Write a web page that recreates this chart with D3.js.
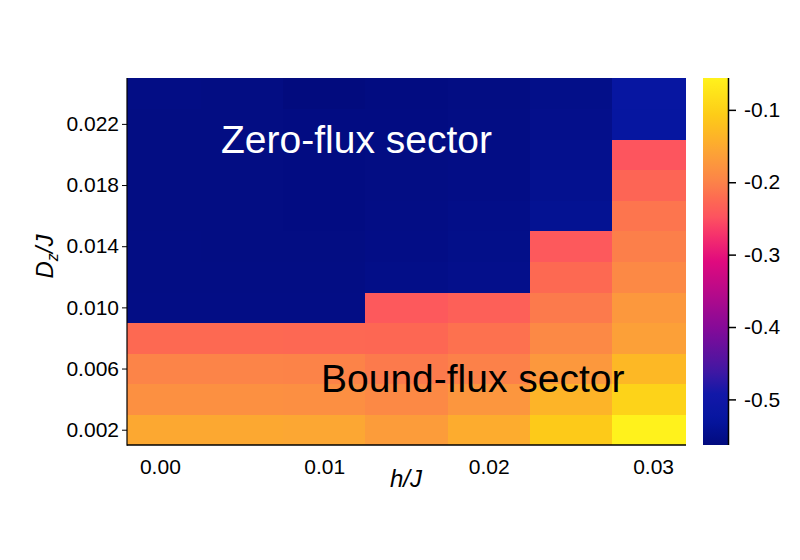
<!DOCTYPE html>
<html>
<head>
<meta charset="utf-8">
<script src="https://cdn.jsdelivr.net/npm/d3@7"></script>
<style>
  html, body { margin: 0; padding: 0; background: #fff; }
  svg { display: block; font-family: "Liberation Sans", Arial, sans-serif; }
</style>
</head>
<body>
<svg id="chart" width="800" height="560"></svg>
<script>
// ---- data ----
const hValues = [0, 0.005, 0.01, 0.015, 0.02, 0.025, 0.03];
const dValues = [0.002, 0.004, 0.006, 0.008, 0.010, 0.012, 0.014, 0.016, 0.018, 0.020, 0.022, 0.024];
// one array per h column, bottom (Dz=0.002) to top (Dz=0.024)
const col_h000 = [-0.152, -0.183, -0.198, -0.224, -0.556, -0.557, -0.557, -0.558, -0.558, -0.558, -0.558, -0.556];
const col_h005 = [-0.152, -0.183, -0.198, -0.224, -0.556, -0.557, -0.558, -0.558, -0.558, -0.558, -0.558, -0.558];
const col_h010 = [-0.154, -0.184, -0.199, -0.225, -0.556, -0.557, -0.558, -0.559, -0.559, -0.559, -0.559, -0.563];
const col_h015 = [-0.168, -0.191, -0.208, -0.226, -0.241, -0.553, -0.555, -0.556, -0.557, -0.558, -0.559, -0.560];
const col_h020 = [-0.147, -0.175, -0.201, -0.216, -0.234, -0.549, -0.551, -0.553, -0.555, -0.556, -0.557, -0.558];
const col_h025 = [-0.109, -0.137, -0.173, -0.191, -0.208, -0.224, -0.241, -0.542, -0.545, -0.547, -0.549, -0.551];
const col_h030 = [-0.056, -0.097, -0.132, -0.163, -0.173, -0.191, -0.203, -0.213, -0.229, -0.245, -0.528, -0.525];
const columns = [col_h000, col_h005, col_h010, col_h015, col_h020, col_h025, col_h030];

const xTicks = [0, 0.01, 0.02, 0.03];
const yTicks = [0.002, 0.006, 0.010, 0.014, 0.018, 0.022];
const cTicks = [-0.1, -0.2, -0.3, -0.4, -0.5];

// colormap stops (blue-magenta-yellow)
const cmapPos = [0, 0.07, 0.14, 0.19, 0.23, 0.32, 0.41, 0.5, 0.57, 0.62, 0.67, 0.72, 0.79, 0.85, 0.9, 1];
const cmapCol = ["#020b7e", "#0616a0", "#1218a8", "#3818a4", "#5214a0", "#860a98", "#b40a8a", "#e00a7e",
                 "#f5306c", "#fd5260", "#fd6a52", "#fc8448", "#fca038", "#fdb825", "#fdcc18", "#fff21c"];

// ---- layout ----
const svg = d3.select("#chart");
const plot = { left: 127, right: 686, top: 78, bottom: 445 };
const cbar = { left: 703, right: 728, top: 78, bottom: 445 };

const cells = [];
columns.forEach((col, i) => col.forEach((v, j) => cells.push({ h: hValues[i], d: dValues[j], v })));

const x = d3.scaleLinear().domain([-0.002, 0.032]).range([plot.left, plot.right]);
const y = d3.scaleLinear().domain([0.001, 0.025]).range([plot.bottom, plot.top]);
const dh = 0.005, dd = 0.002;

const ext = d3.extent(cells, c => c.v);
const tScale = d3.scaleLinear().domain(ext).range([0, 1]).clamp(true);
const cmap = d3.scaleLinear().domain(cmapPos).range(cmapCol).interpolate(d3.interpolateRgb);
const color = v => cmap(tScale(v));

svg.append("defs").append("clipPath").attr("id", "plotclip")
  .append("rect").attr("x", plot.left).attr("y", plot.top)
  .attr("width", plot.right - plot.left).attr("height", plot.bottom - plot.top);

svg.append("g").attr("clip-path", "url(#plotclip)")
  .selectAll("rect").data(cells).join("rect")
  .attr("x", c => x(c.h - dh / 2))
  .attr("y", c => y(c.d + dd / 2))
  .attr("width", c => x(c.h + dh / 2) - x(c.h - dh / 2) + 0.5)
  .attr("height", c => y(c.d - dd / 2) - y(c.d + dd / 2) + 0.5)
  .attr("fill", c => color(c.v))
  .attr("shape-rendering", "crispEdges");

// annotations
svg.append("text").attr("x", x(0.00372)).attr("y", y(0.0201))
  .attr("font-size", 39).attr("fill", "#ffffff").text("Zero-flux sector");
svg.append("text").attr("x", x(0.00980)).attr("y", y(0.00447))
  .attr("font-size", 39).attr("fill", "#000000").text("Bound-flux sector");

const fmtMinus = f => v => f(v).replace("\u2212", "-");

// axes
const xAxis = svg.append("g").attr("transform", `translate(0,${plot.bottom})`)
  .call(d3.axisBottom(x).tickValues(xTicks).tickFormat(d3.format(".2f")).tickSize(0).tickPadding(14));
xAxis.select(".domain").remove();
xAxis.selectAll("text").attr("font-size", 21).attr("font-family", "Liberation Sans, Arial, sans-serif").attr("fill", "#000");

const yAxis = svg.append("g").attr("transform", `translate(${plot.left},0)`)
  .call(d3.axisLeft(y).tickValues(yTicks).tickFormat(d3.format(".3f")).tickSize(5).tickPadding(3));
yAxis.select(".domain").remove();
yAxis.selectAll("line").attr("stroke", "#000").attr("stroke-width", 1);
yAxis.selectAll("text").attr("font-size", 21).attr("font-family", "Liberation Sans, Arial, sans-serif").attr("fill", "#000");

// spines
svg.append("line").attr("x1", plot.left).attr("x2", plot.left).attr("y1", plot.top).attr("y2", plot.bottom + 0.75)
  .attr("stroke", "#000").attr("stroke-width", 1.2);
svg.append("line").attr("x1", plot.left).attr("x2", plot.right).attr("y1", plot.bottom).attr("y2", plot.bottom)
  .attr("stroke", "#000").attr("stroke-width", 1.5);

// axis labels
svg.append("text").attr("x", 406).attr("y", 487)
  .attr("text-anchor", "middle").attr("font-size", 24).attr("font-style", "italic").text("h/J");
const yl = svg.append("text").attr("transform", `translate(53,${(plot.top + plot.bottom) / 2 - 5}) rotate(-90)`)
  .attr("text-anchor", "middle").attr("font-size", 24).attr("font-style", "italic");
yl.append("tspan").text("D");
yl.append("tspan").attr("font-size", 16).attr("dy", 5).text("z");
yl.append("tspan").attr("dy", -5).text("/J");

// colorbar
const cy = d3.scaleLinear().domain(ext).range([cbar.bottom, cbar.top]);
const grad = svg.select("defs").append("linearGradient").attr("id", "cgrad")
  .attr("x1", 0).attr("y1", 1).attr("x2", 0).attr("y2", 0);
d3.range(0, 1.0001, 0.02).forEach(t => {
  grad.append("stop").attr("offset", t).attr("stop-color", cmap(t));
});
svg.append("rect").attr("x", cbar.left).attr("y", cbar.top)
  .attr("width", cbar.right - cbar.left).attr("height", cbar.bottom - cbar.top)
  .attr("fill", "url(#cgrad)");
const cAxis = svg.append("g").attr("transform", `translate(${cbar.right},0)`)
  .call(d3.axisRight(cy).tickValues(cTicks).tickFormat(fmtMinus(d3.format(".1f"))).tickSize(8).tickPadding(8));
cAxis.select(".domain").attr("stroke", "#000").attr("stroke-width", 1.5).attr("d", `M0.5,${cbar.top}V${cbar.bottom}`);
cAxis.selectAll("line").attr("stroke", "#000").attr("stroke-width", 1.5);
cAxis.selectAll("text").attr("font-size", 21).attr("font-family", "Liberation Sans, Arial, sans-serif").attr("fill", "#000");
</script>
</body>
</html>
